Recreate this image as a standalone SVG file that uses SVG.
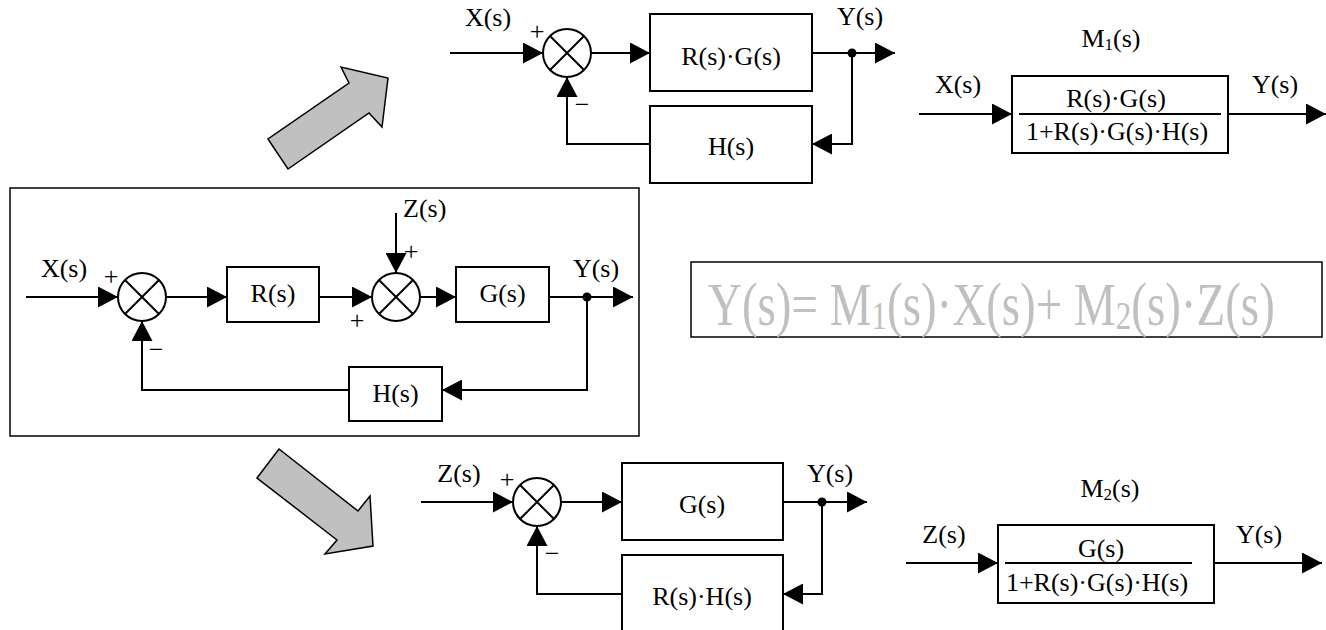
<svg xmlns="http://www.w3.org/2000/svg" width="1326" height="630" viewBox="0 0 1326 630">
<defs>
<style>
.t{font-family:"Liberation Serif","Times New Roman",serif;font-size:26px;fill:#000}
.c{text-anchor:middle}
.s{font-family:"Liberation Serif","Times New Roman",serif;font-size:26px;fill:#000;text-anchor:middle}
.b{fill:#fff;stroke:#000;stroke-width:2}
.w{fill:none;stroke:#000;stroke-width:2}
.a{fill:none;stroke:#000;stroke-width:2;marker-end:url(#ah)}
.big{fill:#c0c0c0;stroke:#000;stroke-width:1.5;stroke-linejoin:miter}
.eq{font-family:"Liberation Serif","Times New Roman",serif;font-size:47px;fill:#c0c0c0}
</style>
<marker id="ah" viewBox="0 0 20 21" markerWidth="20" markerHeight="21" refX="20" refY="10.5" markerUnits="userSpaceOnUse" orient="auto">
<path d="M0,0 L20,10.5 L0,21 Z" fill="#000"/>
</marker>
<g id="sumsym">
<circle cx="0" cy="0" r="24" fill="#fff" stroke="#000" stroke-width="2"/>
<path d="M-17,-17 L17,17 M17,-17 L-17,17" stroke="#000" stroke-width="2"/>
</g>
</defs>
<rect width="1326" height="630" fill="#fff"/>

<g id="bigarrows">
<polygon class="big" points="268,139 288,169 369,113 382,127 388,78 341,67 349,83"/>
<polygon class="big" points="257,478 279,449 358,511 370,496 373,546 325,554 337,540"/>
</g>

<g id="main-frame"><rect x="10" y="188" width="629" height="248" fill="none" stroke="#000" stroke-width="1.5"/></g>

<g id="connectors">
<path class="a" d="M26,297 H118"/>
<path class="a" d="M166,297 H227"/>
<path class="a" d="M319,297 H372"/>
<path class="a" d="M396,213 V273"/>
<path class="a" d="M420,297 H456"/>
<path class="a" d="M549,297 H633"/>
<path class="a" d="M587,297 V390 H442"/>
<path class="a" d="M349,390 H142 V321"/>
<path class="a" d="M450,53 H543"/>
<path class="a" d="M591,53 H650"/>
<path class="a" d="M812,53 H895"/>
<path class="a" d="M852,53 V144 H812"/>
<path class="a" d="M650,144 H567 V77"/>
<path class="a" d="M919,114 H1012"/>
<path class="a" d="M1228,114 H1326"/>
<path class="a" d="M421,502 H513"/>
<path class="a" d="M561,502 H622"/>
<path class="a" d="M783,502 H867"/>
<path class="a" d="M822,502 V594 H783"/>
<path class="a" d="M622,594 H537 V526"/>
<path class="a" d="M906,563 H998"/>
<path class="a" d="M1214,563 H1322"/>
<circle cx="587" cy="297" r="4.5" fill="#000"/>
<circle cx="852" cy="53" r="4.5" fill="#000"/>
<circle cx="822" cy="502" r="4.5" fill="#000"/>
</g>

<g id="main-sum1"><use href="#sumsym" x="142" y="297"/>
<text class="s" x="111" y="285">+</text><text class="s" x="156" y="358">−</text></g>
<g id="main-R"><rect class="b" x="227" y="267" width="92" height="55"/><text class="t c" x="273" y="302">R(s)</text></g>
<g id="main-sum2"><use href="#sumsym" x="396" y="297"/>
<text class="s" x="357" y="329">+</text><text class="s" x="411" y="260">+</text></g>
<g id="main-G"><rect class="b" x="456" y="267" width="93" height="55"/><text class="t c" x="502.5" y="302">G(s)</text></g>
<g id="main-H"><rect class="b" x="349" y="367" width="93" height="54"/><text class="t c" x="395.5" y="402">H(s)</text></g>
<g id="main-labels">
<text class="t c" x="64" y="277">X(s)</text>
<text class="t" x="403" y="217">Z(s)</text>
<text class="t c" x="596" y="277">Y(s)</text>
</g>

<g id="top-sum"><use href="#sumsym" x="567" y="53"/>
<text class="s" x="537" y="40">+</text><text class="s" x="582" y="113">−</text></g>
<g id="top-RG"><rect class="b" x="650" y="14" width="162" height="77"/><text class="t c" x="731" y="65">R(s)·G(s)</text></g>
<g id="top-H"><rect class="b" x="650" y="106" width="162" height="77"/><text class="t c" x="731" y="155">H(s)</text></g>
<g id="top-labels">
<text class="t c" x="488" y="26">X(s)</text>
<text class="t c" x="860" y="25">Y(s)</text>
</g>

<g id="M1">
<rect class="b" x="1012" y="76" width="216" height="77"/>
<path class="w" d="M1019,114 H1221"/>
<text class="t c" x="1116" y="107">R(s)·G(s)</text>
<text class="t c" x="1117" y="140">1+R(s)·G(s)·H(s)</text>
<text class="t c" x="1111" y="47">M<tspan font-size="17" dy="3">1</tspan><tspan dy="-3">(s)</tspan></text>
<text class="t c" x="958" y="93">X(s)</text>
<text class="t c" x="1275" y="93">Y(s)</text>
</g>

<g id="equation">
<rect x="691" y="262" width="631" height="75" fill="#fff" stroke="#000" stroke-width="1.5"/>
<g transform="translate(708,325) scale(1,1.32)">
<text class="eq" x="0" y="0">Y(s)= M<tspan font-size="31" dy="3">1</tspan><tspan dy="-3">(s)·X(s)+ M</tspan><tspan font-size="31" dy="3">2</tspan><tspan dy="-3">(s)·Z(s)</tspan></text>
</g>
</g>

<g id="bot-sum"><use href="#sumsym" x="537" y="502"/>
<text class="s" x="507" y="488">+</text><text class="s" x="552" y="562">−</text></g>
<g id="bot-G"><rect class="b" x="622" y="463" width="161" height="77"/><text class="t c" x="702" y="513">G(s)</text></g>
<g id="bot-RH"><rect class="b" x="622" y="555" width="161" height="77"/><text class="t c" x="702" y="605">R(s)·H(s)</text></g>
<g id="bot-labels">
<text class="t c" x="459" y="482">Z(s)</text>
<text class="t c" x="830" y="482">Y(s)</text>
</g>

<g id="M2">
<rect class="b" x="998" y="525" width="216" height="78"/>
<path class="w" d="M1005,563 H1192"/>
<text class="t c" x="1101" y="557">G(s)</text>
<text class="t c" x="1097" y="591">1+R(s)·G(s)·H(s)</text>
<text class="t c" x="1110" y="497">M<tspan font-size="17" dy="3">2</tspan><tspan dy="-3">(s)</tspan></text>
<text class="t c" x="944" y="543">Z(s)</text>
<text class="t c" x="1259" y="543">Y(s)</text>
</g>
</svg>
